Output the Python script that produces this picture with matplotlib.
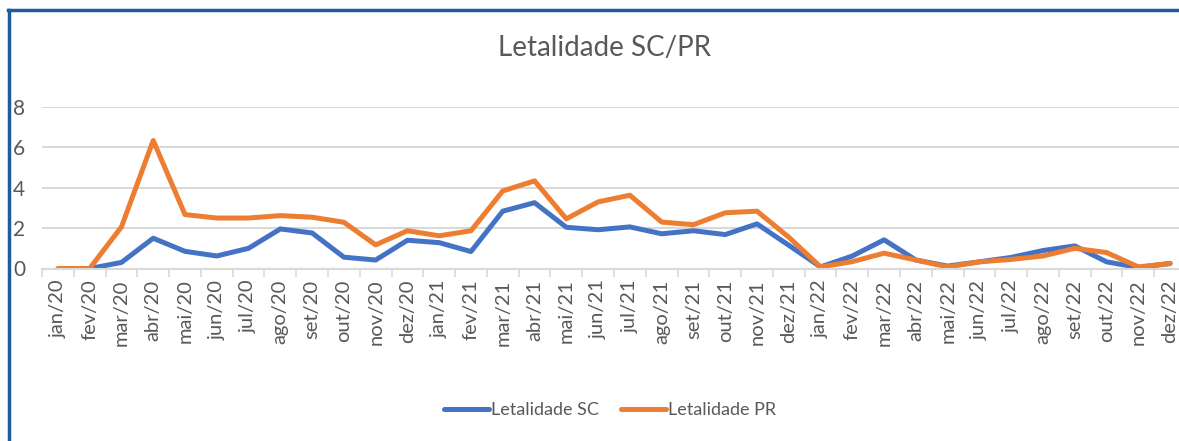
import numpy as np
import matplotlib.pyplot as plt
from matplotlib.ticker import FixedLocator
from matplotlib.lines import Line2D

plt.rcParams['font.family'] = ['Lato', 'DejaVu Sans']

# dados
meses = ['jan/20', 'fev/20', 'mar/20', 'abr/20', 'mai/20', 'jun/20', 'jul/20', 'ago/20',
         'set/20', 'out/20', 'nov/20', 'dez/20', 'jan/21', 'fev/21', 'mar/21', 'abr/21',
         'mai/21', 'jun/21', 'jul/21', 'ago/21', 'set/21', 'out/21', 'nov/21', 'dez/21',
         'jan/22', 'fev/22', 'mar/22', 'abr/22', 'mai/22', 'jun/22', 'jul/22', 'ago/22',
         'set/22', 'out/22', 'nov/22', 'dez/22']

letal_sc = [np.nan, 0.0, 0.3, 1.5, 0.85, 0.62, 1.0, 1.96, 1.76, 0.56, 0.42, 1.4,
            1.28, 0.84, 2.84, 3.26, 2.04, 1.92, 2.06, 1.72, 1.87, 1.68, 2.21, 1.15,
            0.08, 0.62, 1.42, 0.42, 0.12, 0.33, 0.55, 0.89, 1.12, 0.33, 0.05, 0.25]

letal_pr = [0.0, 0.0, 2.06, 6.34, 2.67, 2.5, 2.5, 2.62, 2.54, 2.29, 1.17, 1.87,
            1.62, 1.87, 3.84, 4.34, 2.46, 3.3, 3.63, 2.3, 2.17, 2.76, 2.84, 1.55,
            0.08, 0.34, 0.76, 0.42, 0.08, 0.33, 0.45, 0.62, 1.0, 0.79, 0.08, 0.25]

azul = '#4472C4'
laranja = '#ED7D31'
cinza = '#595959'

W, H = 1179, 441
fig = plt.figure(figsize=(W / 100, H / 100), dpi=100)

# moldura azul (só esquerda e topo)
moldura = '#1F5C9E'
fig.add_artist(Line2D([9 / W, 9 / W], [0, 1 - 10 / H], transform=fig.transFigure,
                      color=moldura, linewidth=2.5))
fig.add_artist(Line2D([8 / W, 1], [1 - 10 / H, 1 - 10 / H], transform=fig.transFigure,
                      color=moldura, linewidth=2.5))

ax = fig.add_axes([42 / W, 1 - 268.5 / H, 1144 / W, 161.5 / H])
x = np.arange(len(meses))
ax.plot(x, letal_sc, color=azul, linewidth=3.6, label='Letalidade SC', solid_capstyle='round')
ax.plot(x, letal_pr, color=laranja, linewidth=3.6, label='Letalidade PR', solid_capstyle='round')

ax.set_xlim(-0.5, len(meses) - 0.5)
ax.set_ylim(0, 8)
ax.set_yticks([0, 2, 4, 6, 8])
ax.set_xticks(x)
ax.set_xticklabels(meses, rotation=90, fontsize=14.5, color=cinza)
ax.xaxis.set_minor_locator(FixedLocator(np.arange(-0.5, len(meses), 1)))
ax.tick_params(axis='x', which='major', length=0, pad=8)
ax.tick_params(axis='x', which='minor', length=6, color='#D9D9D9', width=1.2)
ax.tick_params(axis='y', length=0, labelsize=15, labelcolor=cinza, pad=12)
ax.grid(axis='y', color='#D9D9D9', linewidth=1.5)
ax.set_axisbelow(True)
for s in ['top', 'right', 'left']:
    ax.spines[s].set_visible(False)
ax.spines['bottom'].set_color('#D9D9D9')
ax.spines['bottom'].set_linewidth(1.5)

fig.text(605 / W, 1 - 48 / H, 'Letalidade SC/PR', ha='center', va='center',
         fontsize=20, color=cinza)

fig.legend(loc='center', bbox_to_anchor=(610 / W, 1 - 410 / H), ncol=2, frameon=False,
           fontsize=13, labelcolor=cinza, handlelength=2.5, handletextpad=0.1,
           columnspacing=1.2)

fig.savefig('out.png', dpi=100)
